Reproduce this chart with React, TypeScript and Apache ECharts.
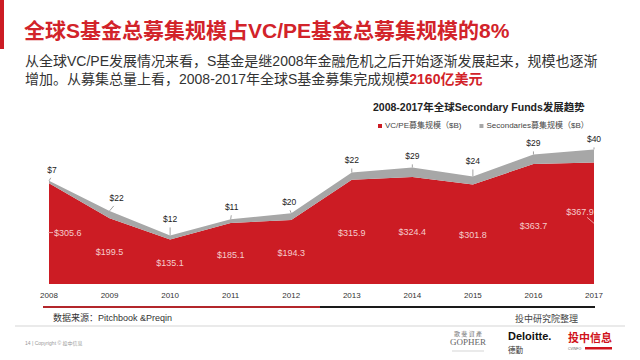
import React, { useEffect, useRef } from "react";
import * as echarts from "echarts";

const years = ["2008", "2009", "2010", "2011", "2012", "2013", "2014", "2015", "2016", "2017"];
const vcpeFunds = [305.6, 199.5, 135.1, 185.1, 194.3, 315.9, 324.4, 301.8, 363.7, 367.9];
const secondaryFunds = [7, 22, 12, 11, 20, 22, 29, 24, 29, 40];
const seriesNames = ["VC/PE募集规模（$B)", "Secondaries募集规模（$B）"];

// label placement tweaks (styling only)
const secLabelDx = [3, 7, 0, 1, -2, 0, 0, 0, 0, 0];
const secLabelDy = [-7, -9, -12, -8, -7, -8, -7, -11, -7, -6];
const redLabelDy = [-1, 1, 1, 1.5, 1, 1, 1.5, 1, 2, -11];

const FONT = '"Liberation Sans", Arial, "Noto Sans CJK SC", sans-serif';
const CJK = '"Noto Sans CJK SC", "Liberation Sans", sans-serif';
const RED = "#cc1c24";
const GRAY = "#a7a7a7";

export default function App() {
  const ref = useRef<HTMLDivElement>(null);
  useEffect(() => {
    if (!ref.current) return;
    const chart = echarts.init(ref.current, null, { renderer: "svg" });
    const labelData = years.map((_, i) => [i, vcpeFunds[i], secondaryFunds[i]]);
    const last = years.length - 1;

    chart.setOption({
      animation: false,
      backgroundColor: "#ffffff",
      title: {
        text: "2008-2017年全球Secondary Funds发展趋势",
        left: 368,
        top: 97,
        textStyle: { fontFamily: FONT, fontSize: 10.5, fontWeight: "bold", color: "#222" },
      },
      legend: {
        left: 373,
        top: 117,
        icon: "rect",
        itemWidth: 4,
        itemHeight: 4,
        itemGap: 18,
        textStyle: { fontFamily: FONT, fontSize: 8, color: "#444", padding: [0, 0, 0, -2] },
        data: seriesNames,
      },
      grid: { left: 49, right: 46, top: 135.5, bottom: 76, containLabel: false },
      xAxis: {
        type: "category",
        data: years,
        boundaryGap: false,
        axisLine: { show: false },
        axisTick: { show: false },
        axisLabel: { fontFamily: FONT, fontSize: 8, color: "#333", margin: 7 },
      },
      yAxis: { type: "value", min: 0, max: 450, show: false, splitLine: { show: false } },
      series: [
        {
          name: seriesNames[0],
          type: "line",
          stack: "total",
          data: vcpeFunds,
          symbol: "none",
          lineStyle: { width: 0 },
          itemStyle: { color: RED },
          areaStyle: { color: RED, opacity: 1 },
        },
        {
          name: seriesNames[1],
          type: "line",
          stack: "total",
          data: secondaryFunds,
          symbol: "none",
          lineStyle: { width: 0 },
          itemStyle: { color: GRAY },
          areaStyle: { color: GRAY, opacity: 1 },
        },
        {
          type: "custom",
          coordinateSystem: "cartesian2d",
          clip: false,
          z: 10,
          silent: true,
          data: labelData,
          renderItem: (params: any, api: any) => {
            const i = api.value(0);
            const vc = api.value(1);
            const sec = api.value(2);
            const top = api.coord([i, vc + sec]);
            const mid = api.coord([i, vc / 2]);
            const children: any[] = [];
            const ly = top[1] + secLabelDy[i];
            children.push({
              type: "line",
              shape: { x1: top[0] + secLabelDx[i] * 0.6, y1: ly + 4, x2: top[0], y2: top[1] },
              style: { stroke: "#8a8a8a", lineWidth: 0.8 },
            });
            children.push({
              type: "text",
              x: top[0] + secLabelDx[i],
              y: ly,
              style: {
                text: "$" + sec,
                fill: "#222",
                font: `8.5px ${FONT}`,
                textAlign: "center",
                textVerticalAlign: "bottom",
              },
            });
            let rx = mid[0];
            let align = "center";
            const ry = mid[1] + redLabelDy[i];
            if (i === 0) {
              rx = mid[0] + 5;
              align = "left";
              children.push({
                type: "line",
                shape: { x1: mid[0] - 1, y1: ry, x2: mid[0] + 4, y2: ry },
                style: { stroke: "#f3c4c4", lineWidth: 0.8 },
              });
            } else if (i === last) {
              rx = mid[0] - 14;
              children.push({
                type: "line",
                shape: { x1: mid[0] - 7, y1: ry + 5, x2: mid[0], y2: ry + 11 },
                style: { stroke: "#f3c4c4", lineWidth: 0.8 },
              });
            }
            children.push({
              type: "text",
              x: rx,
              y: ry,
              style: {
                text: "$" + vc.toFixed(1),
                fill: "#f5cccc",
                font: `9px ${FONT}`,
                textAlign: align,
                textVerticalAlign: "middle",
              },
            });
            return { type: "group", children };
          },
        },
      ],
      graphic: [
        { type: "rect", shape: { x: 0, y: 0, width: 4, height: 49 }, style: { fill: RED } },
        {
          type: "text",
          x: 24,
          y: 30,
          style: {
            text: "全球S基金总募集规模占VC/PE基金总募集规模的8%",
            font: `bold 21px ${FONT}`,
            fill: "#d2232a",
            textVerticalAlign: "middle",
          },
        },
        {
          type: "text",
          x: 25,
          y: 61,
          style: {
            text: "从全球VC/PE发展情况来看，S基金是继2008年金融危机之后开始逐渐发展起来，规模也逐渐",
            font: `14px ${FONT}`,
            fill: "#333",
            textVerticalAlign: "middle",
          },
        },
        {
          type: "text",
          x: 25,
          y: 79,
          style: {
            text: "增加。从募集总量上看，2008-2017年全球S基金募集完成规模{r|2160亿美元}",
            font: `14px ${FONT}`,
            fill: "#333",
            textVerticalAlign: "middle",
            rich: {
              r: { fontFamily: FONT, fontSize: 14, fontWeight: "bold", fill: "#d2232a", color: "#d2232a" },
            },
          },
        },
        { type: "line", shape: { x1: 43, y1: 307, x2: 320, y2: 307 }, style: { stroke: "#b3262b", lineWidth: 2 } },
        { type: "line", shape: { x1: 320, y1: 307, x2: 595, y2: 307 }, style: { stroke: "#1a1a1a", lineWidth: 2 } },
        {
          type: "text",
          x: 53,
          y: 318,
          style: { text: "数据来源：Pitchbook &Preqin", font: `9px ${FONT}`, fill: "#333", textVerticalAlign: "middle" },
        },
        {
          type: "text",
          x: 515,
          y: 318,
          style: { text: "投中研究院整理", font: `9px ${CJK}`, fill: "#444", textVerticalAlign: "middle" },
        },
        { type: "line", shape: { x1: 15, y1: 326, x2: 625, y2: 326 }, style: { stroke: "#d5d5d5", lineWidth: 1 } },
        {
          type: "text",
          x: 25,
          y: 343,
          style: { text: "14 | Copyright © 投中信息", font: `5px ${FONT}`, fill: "#9a9a9a", textVerticalAlign: "middle" },
        },
        {
          type: "text",
          x: 468,
          y: 333,
          style: { text: "歌 斐 資 產", font: `6px ${CJK}`, fill: "#777", textAlign: "center", textVerticalAlign: "middle" },
        },
        {
          type: "text",
          x: 468,
          y: 342,
          style: {
            text: "GOPHER",
            font: `9px "Liberation Serif", "DejaVu Serif", serif`,
            fill: "#666",
            textAlign: "center",
            textVerticalAlign: "middle",
          },
        },
        { type: "line", shape: { x1: 452, y1: 351, x2: 484, y2: 351 }, style: { stroke: "#bbb", lineWidth: 0.6 } },
        {
          type: "text",
          x: 508,
          y: 336,
          style: { text: "Deloitte.", font: `bold 11px ${FONT}`, fill: "#111", textVerticalAlign: "middle" },
        },
        {
          type: "text",
          x: 508,
          y: 349,
          style: { text: "德勤", font: `7.5px ${CJK}`, fill: "#333", textVerticalAlign: "middle" },
        },
        {
          type: "text",
          x: 568,
          y: 337,
          style: { text: "投中信息", font: `bold 11px ${CJK}`, fill: "#d0121b", textVerticalAlign: "middle" },
        },
        { type: "rect", shape: { x: 585, y: 347, width: 27, height: 2.5 }, style: { fill: "#d0121b" } },
        {
          type: "text",
          x: 568,
          y: 348.5,
          style: { text: "CVINFO", font: `3.5px ${FONT}`, fill: "#666", textVerticalAlign: "middle" },
        },
      ],
    });
    return () => chart.dispose();
  }, []);
  return (
    <div
      ref={ref}
      style={{ position: "fixed", left: 0, top: 0, width: 640, height: 360, background: "#fff" }}
    />
  );
}
